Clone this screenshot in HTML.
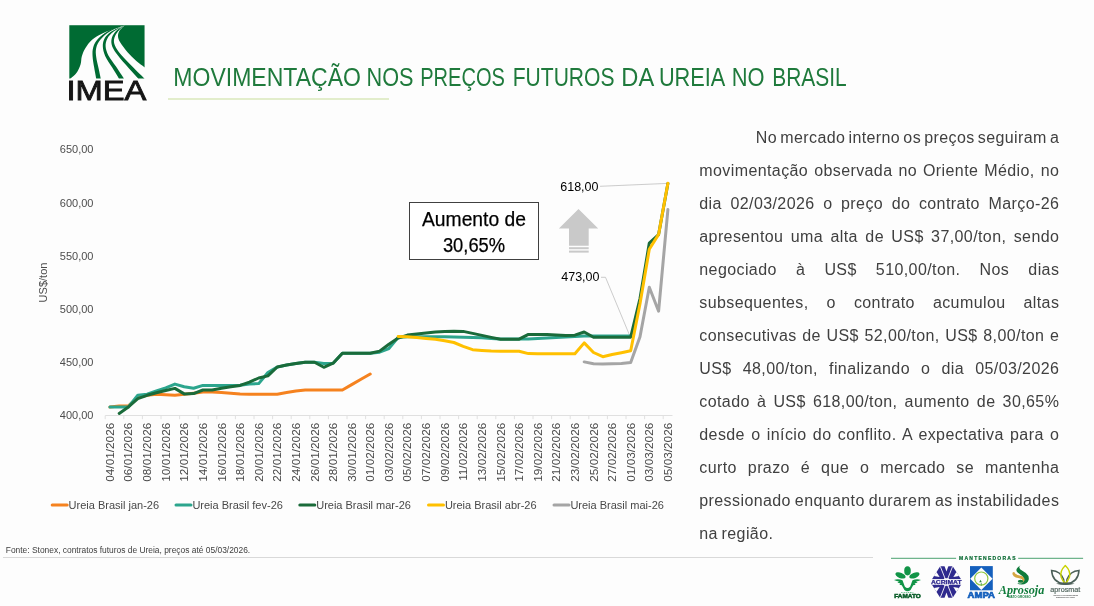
<!DOCTYPE html>
<html lang="pt-BR">
<head>
<meta charset="utf-8">
<title>Movimentação nos preços futuros da ureia no Brasil</title>
<style>
html,body{margin:0;padding:0;}
body{width:1094px;height:606px;position:relative;overflow:hidden;background:#fdfdfd;will-change:transform;font-family:"Liberation Sans",sans-serif;}
svg text{font-family:"Liberation Sans",sans-serif;}
.logo{position:absolute;left:0;top:0;}
h1{position:absolute;left:0;top:0;margin:0;font-weight:normal;font-size:25px;line-height:0;}
h1 svg{display:block;}
.rule{position:absolute;left:168px;top:98px;width:221px;height:2px;background:#E2EDCB;}
.chart{position:absolute;left:0;top:0;}
.box{position:absolute;left:409px;top:202px;width:128px;border:1px solid #404040;background:#fff;text-align:center;font-size:19.5px;line-height:26.1px;color:#000;padding-top:2.7px;height:53.3px;box-sizing:content-box;}
.box span{display:block;-webkit-text-stroke:0.25px #000;}
.box .l1{font-size:20.2px;transform:scaleX(0.955);}
.box .l2{font-size:20.5px;transform:scaleX(0.895);}
.para{position:absolute;left:699.3px;top:121.2px;width:360px;font-size:16px;line-height:33px;color:#404040;letter-spacing:0.4px;word-spacing:-1.15px;}
.ln{box-sizing:border-box;width:360px;text-align:justify;text-align-last:justify;white-space:nowrap;height:33px;}
.ln.first{padding-left:56.5px;word-spacing:-1.75px;}
.ln.last{text-align:left;text-align-last:left;}
.src{position:absolute;left:5.8px;top:544px;font-size:8.42px;line-height:12px;color:#404040;white-space:nowrap;}
.hr{position:absolute;left:3px;top:557px;width:870px;height:1px;background:#D9D9D9;}
.sponsors{position:absolute;left:0;top:0;}
</style>
</head>
<body>
<svg class="logo" width="200" height="115" viewBox="0 0 200 115">
<g transform="translate(50,15) scale(0.16502)">
<rect x="117" y="62" width="456" height="323" fill="#006B33"/>
<path d="M125.0,385.0 C130.8,379.5 150.0,366.2 160.0,352.0 C170.0,337.8 179.5,317.0 185.0,300.0 C190.5,283.0 188.0,266.7 193.0,250.0 C198.0,233.3 204.7,216.7 215.0,200.0 C225.3,183.3 237.5,165.0 255.0,150.0 C272.5,135.0 295.8,121.7 320.0,110.0 C344.2,98.3 378.0,87.8 400.0,80.0 C422.0,72.2 443.3,65.8 452.0,63.0 C447.5,67.5 431.7,79.7 425.0,90.0 C418.3,100.3 412.0,112.5 412.0,125.0 C412.0,137.5 415.3,148.3 425.0,165.0 C434.7,181.7 454.2,206.7 470.0,225.0 C485.8,243.3 502.8,259.8 520.0,275.0 C537.2,290.2 564.2,309.2 573.0,316.0 L576,318 L576,388 L122,388 Z" fill="#fdfdfd"/>
<path d="M280.0,385.0 C278.0,374.2 271.7,342.5 268.0,320.0 C264.3,297.5 259.0,270.8 258.0,250.0 C257.0,229.2 256.7,212.5 262.0,195.0 C267.3,177.5 275.3,161.2 290.0,145.0 C304.7,128.8 326.3,111.3 350.0,98.0 C373.7,84.7 418.3,70.5 432.0,65.0 C420.0,71.2 381.2,87.8 360.0,102.0 C338.8,116.2 318.3,133.7 305.0,150.0 C291.7,166.3 284.2,182.5 280.0,200.0 C275.8,217.5 277.5,234.2 280.0,255.0 C282.5,275.8 290.3,303.3 295.0,325.0 C299.7,346.7 305.8,375.0 308.0,385.0 Z" fill="#006B33"/>
<path d="M418.0,385.0 C411.3,374.2 391.8,342.5 378.0,320.0 C364.2,297.5 344.7,271.7 335.0,250.0 C325.3,228.3 320.5,208.3 320.0,190.0 C319.5,171.7 323.3,155.0 332.0,140.0 C340.7,125.0 353.7,112.5 372.0,100.0 C390.3,87.5 430.3,70.8 442.0,65.0 C432.3,71.2 399.7,89.2 384.0,102.0 C368.3,114.8 355.8,127.3 348.0,142.0 C340.2,156.7 336.0,172.8 337.0,190.0 C338.0,207.2 343.5,224.7 354.0,245.0 C364.5,265.3 384.3,288.7 400.0,312.0 C415.7,335.3 440.0,372.8 448.0,385.0 Z" fill="#006B33"/>
<path d="M535.0,385.0 C522.2,370.8 480.5,325.8 458.0,300.0 C435.5,274.2 414.0,250.0 400.0,230.0 C386.0,210.0 378.0,195.8 374.0,180.0 C370.0,164.2 371.3,149.2 376.0,135.0 C380.7,120.8 390.2,106.7 402.0,95.0 C413.8,83.3 439.5,70.0 447.0,65.0 C441.3,70.5 422.3,86.2 413.0,98.0 C403.7,109.8 394.8,123.0 391.0,136.0 C387.2,149.0 385.5,161.2 390.0,176.0 C394.5,190.8 402.7,205.2 418.0,225.0 C433.3,244.8 456.2,268.3 482.0,295.0 C507.8,321.7 557.8,370.0 573.0,385.0 Z" fill="#006B33"/>
</g>
<text x="66.4" y="100.4" font-size="27.3" fill="#151515" stroke="#151515" stroke-width="0.8" textLength="80" lengthAdjust="spacingAndGlyphs">IMEA</text>
</svg>

<h1><svg width="1094" height="110" viewBox="0 0 1094 110"><text y="86.1" font-size="25" fill="#1F7A3C"><tspan x="173.3" textLength="187.6" lengthAdjust="spacingAndGlyphs">MOVIMENTAÇÃO</tspan> <tspan x="366.5" textLength="47.0" lengthAdjust="spacingAndGlyphs">NOS</tspan> <tspan x="420.2" textLength="84.7" lengthAdjust="spacingAndGlyphs">PREÇOS</tspan> <tspan x="512.7" textLength="101.8" lengthAdjust="spacingAndGlyphs">FUTUROS</tspan> <tspan x="621.3" textLength="31.6" lengthAdjust="spacingAndGlyphs">DA</tspan> <tspan x="658.9" textLength="65.3" lengthAdjust="spacingAndGlyphs">UREIA</tspan> <tspan x="731.7" textLength="32.8" lengthAdjust="spacingAndGlyphs">NO</tspan> <tspan x="772.3" textLength="74.4" lengthAdjust="spacingAndGlyphs">BRASIL</tspan></text></svg></h1>
<div class="rule"></div>
<svg class="chart" width="700" height="540" viewBox="0 0 700 540">
<g stroke="#E0E0E0" stroke-width="1" fill="none">
<path d="M105.2,415.5 H672.5"/>
<path d="M105.2,415.5 v3.7M123.8,415.5 v3.7M142.4,415.5 v3.7M161.0,415.5 v3.7M179.6,415.5 v3.7M198.2,415.5 v3.7M216.8,415.5 v3.7M235.4,415.5 v3.7M254.0,415.5 v3.7M272.6,415.5 v3.7M291.2,415.5 v3.7M309.8,415.5 v3.7M328.4,415.5 v3.7M347.0,415.5 v3.7M365.6,415.5 v3.7M384.2,415.5 v3.7M402.8,415.5 v3.7M421.4,415.5 v3.7M440.0,415.5 v3.7M458.6,415.5 v3.7M477.2,415.5 v3.7M495.8,415.5 v3.7M514.4,415.5 v3.7M533.0,415.5 v3.7M551.6,415.5 v3.7M570.2,415.5 v3.7M588.8,415.5 v3.7M607.4,415.5 v3.7M626.0,415.5 v3.7M644.6,415.5 v3.7M663.2,415.5 v3.7"/>
</g>
<g font-size="11" fill="#4d4d4d" text-anchor="end">
<text x="93.5" y="419.4">400,00</text>
<text x="93.5" y="366.2">450,00</text>
<text x="93.5" y="313.0">500,00</text>
<text x="93.5" y="259.8">550,00</text>
<text x="93.5" y="206.6">600,00</text>
<text x="93.5" y="153.4">650,00</text>
</g>
<text font-size="11" fill="#4d4d4d" text-anchor="middle" transform="translate(47,282.5) rotate(-90)">US$/ton</text>
<g font-size="11.8" fill="#484848" text-anchor="end">
<text transform="translate(113.9,422.7) rotate(-90)">04/01/2026</text>
<text transform="translate(132.4,422.7) rotate(-90)">06/01/2026</text>
<text transform="translate(151.1,422.7) rotate(-90)">08/01/2026</text>
<text transform="translate(169.7,422.7) rotate(-90)">10/01/2026</text>
<text transform="translate(188.2,422.7) rotate(-90)">12/01/2026</text>
<text transform="translate(206.9,422.7) rotate(-90)">14/01/2026</text>
<text transform="translate(225.5,422.7) rotate(-90)">16/01/2026</text>
<text transform="translate(244.1,422.7) rotate(-90)">18/01/2026</text>
<text transform="translate(262.7,422.7) rotate(-90)">20/01/2026</text>
<text transform="translate(281.2,422.7) rotate(-90)">22/01/2026</text>
<text transform="translate(299.9,422.7) rotate(-90)">24/01/2026</text>
<text transform="translate(318.5,422.7) rotate(-90)">26/01/2026</text>
<text transform="translate(337.1,422.7) rotate(-90)">28/01/2026</text>
<text transform="translate(355.7,422.7) rotate(-90)">30/01/2026</text>
<text transform="translate(374.2,422.7) rotate(-90)">01/02/2026</text>
<text transform="translate(392.9,422.7) rotate(-90)">03/02/2026</text>
<text transform="translate(411.4,422.7) rotate(-90)">05/02/2026</text>
<text transform="translate(430.1,422.7) rotate(-90)">07/02/2026</text>
<text transform="translate(448.7,422.7) rotate(-90)">09/02/2026</text>
<text transform="translate(467.2,422.7) rotate(-90)">11/02/2026</text>
<text transform="translate(485.9,422.7) rotate(-90)">13/02/2026</text>
<text transform="translate(504.5,422.7) rotate(-90)">15/02/2026</text>
<text transform="translate(523.1,422.7) rotate(-90)">17/02/2026</text>
<text transform="translate(541.7,422.7) rotate(-90)">19/02/2026</text>
<text transform="translate(560.2,422.7) rotate(-90)">21/02/2026</text>
<text transform="translate(578.9,422.7) rotate(-90)">23/02/2026</text>
<text transform="translate(597.5,422.7) rotate(-90)">25/02/2026</text>
<text transform="translate(616.1,422.7) rotate(-90)">27/02/2026</text>
<text transform="translate(634.7,422.7) rotate(-90)">01/03/2026</text>
<text transform="translate(653.3,422.7) rotate(-90)">03/03/2026</text>
<text transform="translate(671.9,422.7) rotate(-90)">05/03/2026</text>
</g>
<g stroke="#BFBFBF" stroke-width="0.8" fill="none">
<path d="M600,186.3 L667.5,183.4"/>
<path d="M601,277.3 H605.5 L630.5,337.5"/>
</g>
<g fill="none" stroke-width="3" stroke-linejoin="round" stroke-linecap="round">
<path stroke="#F5821F" d="M109.9,407.0 L119.2,405.9 L128.4,405.9 L137.8,397.4 L147.1,395.3 L156.4,394.2 L165.7,394.8 L174.9,395.3 L184.2,394.2 L193.6,393.2 L202.9,392.1 L212.2,392.1 L221.5,392.6 L230.8,393.2 L240.1,393.9 L249.4,394.2 L258.7,394.2 L267.9,394.2 L277.2,394.2 L286.6,392.6 L295.9,391.0 L305.2,390.0 L314.5,390.0 L323.8,390.0 L333.1,390.0 L342.4,390.0 L351.7,384.6 L361.0,379.3 L370.2,374.0"/>
<path stroke="#2CA58D" d="M109.9,407.0 L119.2,407.0 L128.4,407.0 L137.8,395.3 L147.1,394.2 L156.4,391.0 L165.7,387.8 L174.9,384.1 L184.2,386.8 L193.6,388.2 L202.9,385.4 L212.2,385.4 L221.5,385.4 L230.8,385.4 L240.1,385.2 L249.4,384.1 L258.7,383.6 L267.9,372.5 L277.2,367.1 L286.6,365.0 L295.9,363.6 L305.2,362.3 L314.5,362.3 L323.8,363.4 L333.1,363.2 L342.4,353.3 L351.7,353.3 L361.0,353.3 L370.2,353.3 L379.6,352.2 L388.9,348.5 L398.2,337.4 L407.4,336.8 L416.8,336.8 L426.1,336.8 L435.4,336.8 L444.7,336.8 L453.9,337.1 L463.2,337.3 L472.6,337.5 L481.9,337.8 L491.2,338.4 L500.5,338.9 L509.8,338.9 L519.1,338.9 L528.4,339.1 L537.7,338.6 L547.0,338.0 L556.2,337.5 L565.6,337.0 L574.9,336.4 L584.2,335.9 L593.5,335.9 L602.8,335.9 L612.1,335.9 L621.4,335.9 L630.7,335.9"/>
<path stroke="#1A6B3A" d="M119.2,413.4 L128.4,407.0 L137.8,398.7 L147.1,395.3 L156.4,392.7 L165.7,390.5 L174.9,388.4 L184.2,393.9 L193.6,393.6 L202.9,390.0 L212.2,390.0 L221.5,388.2 L230.8,386.8 L240.1,385.4 L249.4,382.1 L258.7,378.0 L267.9,375.9 L277.2,367.0 L286.6,365.0 L295.9,363.6 L305.2,362.3 L314.5,362.3 L323.8,367.3 L333.1,363.2 L342.4,353.3 L351.7,353.3 L361.0,353.3 L370.2,353.3 L379.6,351.1 L388.9,344.2 L398.2,338.1 L407.4,335.1 L416.8,334.0 L426.1,332.9 L435.4,332.0 L444.7,331.4 L453.9,331.2 L463.2,331.4 L472.6,333.4 L481.9,335.4 L491.2,337.4 L500.5,339.2 L509.8,339.2 L519.1,339.2 L528.4,334.4 L537.7,334.6 L547.0,334.6 L556.2,335.0 L565.6,335.4 L574.9,335.2 L584.2,332.0 L593.5,337.2 L602.8,337.2 L612.1,337.2 L621.4,337.2 L630.7,337.2 L640.0,298.5 L649.3,243.1 L658.6,234.6 L667.9,183.5"/>
<path stroke="#FFC000" d="M398.2,336.4 L407.4,336.8 L416.8,337.4 L426.1,338.4 L435.4,339.2 L444.7,340.8 L453.9,342.5 L463.2,346.3 L472.6,349.7 L481.9,350.5 L491.2,351.1 L500.5,351.3 L509.8,351.3 L519.1,351.3 L528.4,353.6 L537.7,353.8 L547.0,353.8 L556.2,353.8 L565.6,353.8 L574.9,353.8 L584.2,342.9 L593.5,352.5 L602.8,356.7 L612.1,354.5 L621.4,352.7 L630.7,350.8 L640.0,303.8 L649.3,249.2 L658.6,234.4 L667.9,183.2"/>
<path stroke="#A5A5A5" d="M584.2,361.9 L593.5,363.8 L602.8,363.9 L612.1,363.7 L621.4,363.5 L630.7,362.6 L640.0,336.8 L649.3,287.2 L658.6,311.2 L667.9,209.6"/>
</g>
<g font-size="12.5" fill="#000" text-anchor="end">
<text x="598.5" y="190.8">618,00</text>
<text x="599.5" y="281.1">473,00</text>
</g>
<g fill="#C9C9C9">
<path d="M578.5,209 L598.2,228.6 H588.7 V245.8 H569 V228.6 H558.9 Z"/>
<rect x="569" y="247.2" width="19.7" height="2"/>
<rect x="569" y="250.6" width="19.7" height="2"/>
</g>
<g font-size="11" fill="#484848">
<path d="M52.2,505 h15" stroke="#F5821F" stroke-width="3" stroke-linecap="round"/>
<text x="68.6" y="509">Ureia Brasil jan-26</text>
<path d="M176.0,505 h15" stroke="#2CA58D" stroke-width="3" stroke-linecap="round"/>
<text x="192.4" y="509">Ureia Brasil fev-26</text>
<path d="M299.8,505 h15" stroke="#1A6B3A" stroke-width="3" stroke-linecap="round"/>
<text x="316.2" y="509">Ureia Brasil mar-26</text>
<path d="M428.5,505 h15" stroke="#FFC000" stroke-width="3" stroke-linecap="round"/>
<text x="444.9" y="509">Ureia Brasil abr-26</text>
<path d="M554.0,505 h15" stroke="#A5A5A5" stroke-width="3" stroke-linecap="round"/>
<text x="570.4" y="509">Ureia Brasil mai-26</text>
</g>
</svg>
<div class="box"><span class="l1">Aumento de</span><span class="l2">30,65%</span></div>
<div class="para">
<div class="ln first">No mercado interno os preços seguiram a</div>
<div class="ln">movimentação observada no Oriente Médio, no</div>
<div class="ln">dia 02/03/2026 o preço do contrato Março-26</div>
<div class="ln">apresentou uma alta de US$ 37,00/ton, sendo</div>
<div class="ln">negociado à US$ 510,00/ton. Nos dias</div>
<div class="ln">subsequentes, o contrato acumulou altas</div>
<div class="ln">consecutivas de US$ 52,00/ton, US$ 8,00/ton e</div>
<div class="ln">US$ 48,00/ton, finalizando o dia 05/03/2026</div>
<div class="ln">cotado à US$ 618,00/ton, aumento de 30,65%</div>
<div class="ln">desde o início do conflito. A expectativa para o</div>
<div class="ln">curto prazo é que o mercado se mantenha</div>
<div class="ln">pressionado enquanto durarem as instabilidades</div>
<div class="ln last">na região.</div>
</div>
<div class="src">Fonte: Stonex, contratos futuros de Ureia, preços até 05/03/2026.</div>
<div class="hr"></div>
<svg class="sponsors" width="1094" height="606" viewBox="0 0 1094 606">
<!-- header -->
<g stroke="#1E8A4C" stroke-width="0.8"><path d="M891,558.3 H956.1"/><path d="M1018.2,558.3 H1083.1"/></g>
<text x="959.1" y="559.9" font-size="5" font-weight="bold" fill="#0B6B34" stroke="#0B6B34" stroke-width="0.2" textLength="56.4" lengthAdjust="spacing">MANTENEDORAS</text>
<!-- FAMATO -->
<g fill="#119447">
<ellipse cx="907.5" cy="570.8" rx="3.3" ry="4.6"/>
<ellipse cx="900.5" cy="575.4" rx="5.4" ry="2.7" transform="rotate(22 900.5 575.4)"/>
<ellipse cx="914.4" cy="575.4" rx="5.4" ry="2.7" transform="rotate(-22 914.4 575.4)"/>
<path d="M894,580 q4,-1.6 8.5,0.2 l2.3,6.3 q2.7,3 5.4,0 l2.3,-6.3 q4.5,-1.8 8.5,-0.2 q-3,1.2 -5,1.4 l1.6,1.2 l-3,0.9 l1,1.2 l-2.4,0.6 l-2.6,4.6 q-3.1,2.6 -6.2,0 l-2.6,-4.6 l-2.4,-0.6 l1,-1.2 l-3,-0.9 l1.6,-1.2 q-2,-0.2 -5,-1.4 z"/>
</g>
<text x="907.5" y="592.7" font-size="2.2" font-weight="bold" fill="#119447" text-anchor="middle" letter-spacing="0.5">SISTEMA</text>
<text x="894.3" y="597.8" font-size="5.6" font-weight="bold" fill="#0B5E2A" stroke="#0B5E2A" stroke-width="0.5" textLength="26.4" lengthAdjust="spacingAndGlyphs">FAMATO</text>
<!-- ACRIMAT -->
<g>
<polygon points="940.2,566.2 952.7,566.2 962.8,582 952.7,597.8 940.2,597.8 930.2,582" fill="#2F2A8E"/>
<g stroke="#fdfdfd" stroke-width="0.9" fill="none"><path d="M940.2,566.2 L952.7,597.8"/><path d="M952.7,566.2 L940.2,597.8"/></g>
<g fill="#fdfdfd">
<polygon points="944.4,565.8 948.5,565.8 946.45,571.6"/>
<polygon points="944.4,598.2 948.5,598.2 946.45,592.4"/>
<polygon points="933.9,576.1 936.5,572 939.6,577"/>
<polygon points="959,576.1 956.4,572 953.3,577"/>
<polygon points="933.9,587.9 936.5,592 939.6,587"/>
<polygon points="959,587.9 956.4,592 953.3,587"/>
<polygon points="950.8,582 948.6,578.2 944.3,578.2 942.1,582 944.3,585.8 948.6,585.8"/>
<rect x="929" y="579.1" width="35" height="5.7"/>
</g>
<text x="931" y="583.7" font-size="4.8" font-weight="bold" fill="#2F2A8E" stroke="#2F2A8E" stroke-width="0.25" textLength="30.6" lengthAdjust="spacingAndGlyphs">ACRIMAT</text>
</g>
<!-- AMPA -->
<g>
<rect x="970" y="566.1" width="22.8" height="24.2" fill="#1560BD"/>
<path d="M981.3,567.6 L992.6,578.8 L981.3,589.9 L970.2,578.8 Z" fill="#fdfdfd"/>
<circle cx="981.3" cy="578.6" r="6.6" fill="none" stroke="#8DC63F" stroke-width="1.2"/>
<path d="M980.5,579.8 l1.3,2.4 h-2.600 z" fill="#2E8B3D"/>
<path d="M981.300,583 v2.600" stroke="#2E8B3D" stroke-width="0.7"/>
<text x="967.6" y="597.8" font-size="8.8" font-weight="bold" fill="#1560BD" stroke="#1560BD" stroke-width="0.7" textLength="27.4" lengthAdjust="spacingAndGlyphs">AMPA</text>
</g>
<!-- APROSOJA -->
<g>
<path d="M1012.6,574.6 q-0.8,-2.6 1.6,-2.6 q0.6,2.2 3.6,3 l4.6,1.2 q3.4,1.2 2.2,4.2 q-1.2,2.6 -4.6,2.6 q2.6,-1 2.6,-2.6 q0,-1.4 -2.4,-2 l-4.4,-1 q-2.6,-0.8 -3.2,-2.8 z" fill="#D5A642"/>
<path d="M1020.8,565.2 q-2.8,1.8 -0.4,4.2 l5.4,3.6 q3.8,3 2.8,7 q-1.4,4.4 -7,4.6 q-3.2,0 -4.4,-1.6 q3.8,1.2 6,-0.8 q3,-3 -0.6,-6 l-5,-3.6 q-3.6,-3.6 3.2,-7.4 z" fill="#0F7B3A"/>
<ellipse cx="1020.6" cy="581.3" rx="2.8" ry="1.5" fill="#0F7B3A"/>
<text x="998.8" y="593.6" font-size="11.5" font-style="italic" font-weight="bold" fill="#0F7B3A" textLength="45.5" lengthAdjust="spacingAndGlyphs" style="font-family:'Liberation Serif',serif">Aprosoja</text>
<text x="1019.5" y="598.3" font-size="2.6" font-weight="bold" fill="#0F7B3A" text-anchor="middle" textLength="23" lengthAdjust="spacingAndGlyphs">MATO GROSSO</text>
</g>
<!-- APROSMAT -->
<g>
<g fill="none" stroke="#4B5F58" stroke-width="1.5">
<path d="M1051.6,570.4 q9,0.6 12,8.8 q0.6,2.6 0.2,4.6 q-11.6,-1.8 -12.2,-13.4 z"/>
<path d="M1079,570.4 q-9,0.6 -12,8.8 q-0.6,2.6 -0.2,4.6 q11.600,-1.8 12.2,-13.4 z"/>
</g>
<path d="M1065.300,565.600 q-5.600,5.400 -4.200,11.400 q1.600,4.400 4.200,6.600 q2.600,-2.200 4.200,-6.600 q1.400,-6 -4.200,-11.400 z" fill="none" stroke="#C9D300" stroke-width="1.4"/>
<path d="M1056,583.800 q9.300,2.600 18.600,0 q-9.300,-2.400 -18.600,0 z" fill="#4B5F58"/>
<text x="1050.200" y="591.800" font-size="6.600" fill="#4B5F58" stroke="#4B5F58" stroke-width="0.15" textLength="30.200" lengthAdjust="spacingAndGlyphs">aprosmat</text>
<text x="1065.500" y="595.600" font-size="1.900" font-weight="bold" fill="#444" text-anchor="middle" textLength="25" lengthAdjust="spacingAndGlyphs">ASSOCIAÇÃO DOS PRODUTORES DE</text>
<text x="1065.500" y="597.800" font-size="1.900" font-weight="bold" fill="#444" text-anchor="middle" textLength="19" lengthAdjust="spacingAndGlyphs">SEMENTES DE MATO GROSSO</text>
</g>
</svg>

</body>
</html>
